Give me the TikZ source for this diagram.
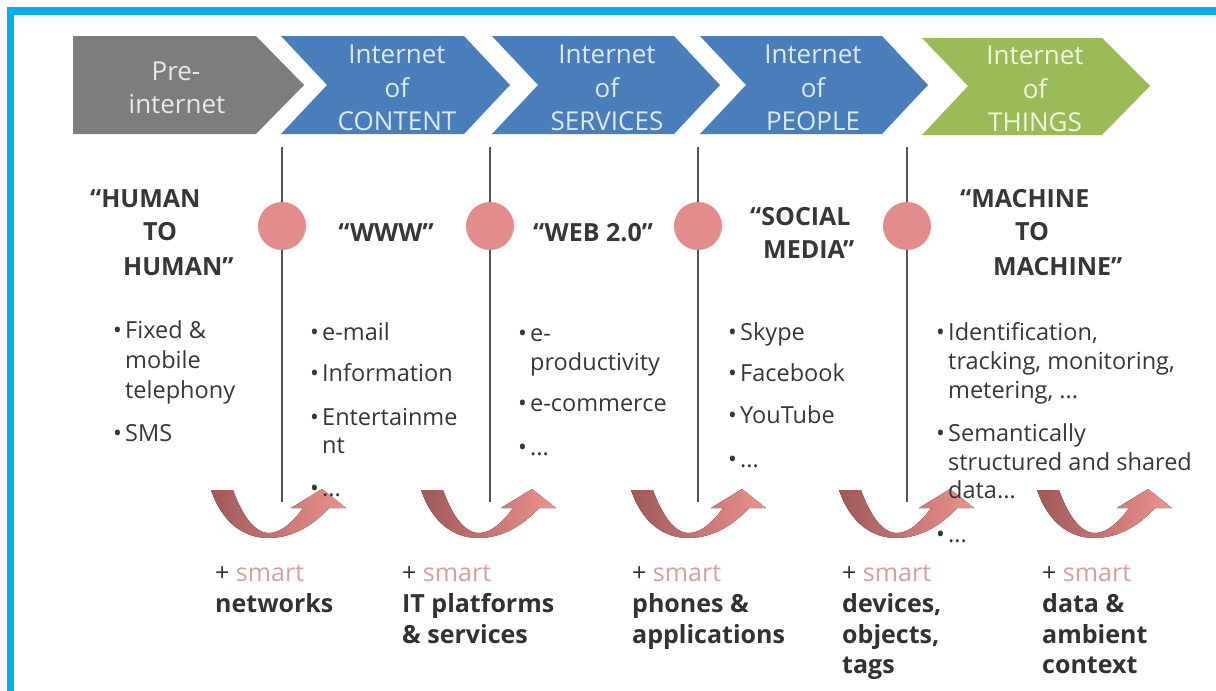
\documentclass[tikz,border=0pt]{standalone}
\usepackage{fontspec}
\setmainfont{Open Sans}
\definecolor{cyanb}{RGB}{0,174,239}
\definecolor{chgray}{RGB}{125,125,125}
\definecolor{chblue}{RGB}{74,126,187}
\definecolor{chgreen}{RGB}{155,187,89}
\definecolor{txtgray}{RGB}{232,232,232}
\definecolor{txtblue}{RGB}{222,232,245}
\definecolor{txtgreen}{RGB}{240,245,222}
\definecolor{headc}{RGB}{55,55,55}
\definecolor{bodyc}{RGB}{55,55,55}
\definecolor{botc}{RGB}{50,50,50}
\definecolor{smartc}{RGB}{214,160,160}
\definecolor{linec}{RGB}{85,85,85}
\definecolor{dotc}{RGB}{226,140,142}
\definecolor{swdark}{RGB}{160,88,90}
\definecolor{swmid}{RGB}{205,118,118}
\definecolor{swlight}{RGB}{236,146,143}
\newcommand\mybul{\makebox[12pt][l]{•}}
\begin{document}
\begin{tikzpicture}[x=1pt,y=-1pt,
  ctext/.style={font=\fontsize{26}{30}\selectfont, text=txtblue, anchor=base, inner sep=0pt},
  head/.style={font=\fontsize{25}{30}\selectfont\bfseries, text=headc, anchor=base west, inner sep=0pt},
  body/.style={font=\fontsize{23.5}{28}\selectfont, text=bodyc, anchor=base west, inner sep=0pt},
  bot/.style={font=\fontsize{25}{30}\selectfont\bfseries, text=botc, anchor=base west, inner sep=0pt},
  plus/.style={font=\fontsize{25}{30}\selectfont, text=botc, anchor=base west, inner sep=0pt},
  vline/.style={draw=linec, line width=2.5pt},
  dot/.style={circle, fill=dotc, minimum size=48pt, inner sep=0pt},
  swoosh/.style={left color=swdark, middle color=swmid, right color=swlight},
  uarrow/.pic={
    \fill[swoosh] (0,490) .. controls (12,525) and (35,538) .. (57,538)
      .. controls (85,538) and (105,522) .. (118,508)
      -- (135,508) -- (111,489) -- (80,508) -- (92,508)
      .. controls (82,522) and (70,533) .. (58,533)
      .. controls (42,533) and (30,512) .. (22,490) -- cycle;
  }]
\useasboundingbox (0,0) rectangle (1216,691);
\fill[white] (0,0) rectangle (1216,691);
% frame
\fill[cyanb] (7,7) rectangle (1216,15);
\fill[cyanb] (7,7) rectangle (14,691);
% chevrons
\fill[chgray] (73,36) -- (256,36) -- (304,85) -- (256,134) -- (73,134) -- cycle;
\fill[chblue] (281,36) -- (464,36) -- (510,85) -- (464,134) -- (281,134) -- (327,85) -- cycle;
\fill[chblue] (492,36) -- (674,36) -- (720,85) -- (674,134) -- (492,134) -- (538,85) -- cycle;
\fill[chblue] (700,36) -- (882,36) -- (928,85) -- (882,134) -- (700,134) -- (746,85) -- cycle;
\fill[chgreen] (922,38) -- (1102,38) -- (1150,86) -- (1102,135) -- (922,135) -- (968,86) -- cycle;
% chevron texts
\node[ctext, text=txtgray] (pa) at (176,80) {Pre-};
\node[ctext, text=txtgray] (pb) at (177,113) {internet};
\node[ctext] (ca) at (397,63) {Internet};
\node[ctext] (cb) at (397,97) {of};
\node[ctext] (cc) at (397,130) {CONTENT};
\node[ctext] (sa) at (607,63) {Internet};
\node[ctext] (sb) at (607,97) {of};
\node[ctext] (sc) at (607,130) {SERVICES};
\node[ctext] (qa) at (813,63) {Internet};
\node[ctext] (qb) at (813,97) {of};
\node[ctext] (qc) at (813,130) {PEOPLE};
\node[ctext, text=txtgreen] (ta) at (1035,64) {Internet};
\node[ctext, text=txtgreen] (tb) at (1035,98) {of};
\node[ctext, text=txtgreen] (tc) at (1035,131) {THINGS};
% swoosh arrows
\pic (a1) at (211,0) {uarrow};
\pic (a2) at (421,0) {uarrow};
\pic (a3) at (631,0) {uarrow};
\pic (a4) at (839,0) {uarrow};
\pic (a5) at (1037,0) {uarrow};
% vertical lines and dots
\coordinate (l1t) at (282,147); \coordinate (l1b) at (282,502);
\coordinate (l2t) at (490,147); \coordinate (l2b) at (490,502);
\coordinate (l3t) at (698,147); \coordinate (l3b) at (698,502);
\coordinate (l4t) at (907,147); \coordinate (l4b) at (907,502);
\draw[vline] (l1t) -- (l1b);
\draw[vline] (l2t) -- (l2b);
\draw[vline] (l3t) -- (l3b);
\draw[vline] (l4t) -- (l4b);
\node[dot] (d1) at (282,226) {};
\node[dot] (d2) at (490,226) {};
\node[dot] (d3) at (698,226) {};
\node[dot] (d4) at (907,226) {};
% headings
\node[head] (h1a) at (90,207) {“HUMAN};
\node[head] (h1b) at (143,240) {TO};
\node[head] (h1c) at (123,275) {HUMAN”};
\node[head, anchor=base] (h2) at (386,241) {“WWW”};
\node[head, anchor=base] (h3) at (593,241) {“WEB 2.0”};
\node[head] (h4a) at (750,225) {“SOCIAL};
\node[head] (h4b) at (763,258) {MEDIA”};
\node[head] (h5a) at (960,207) {“MACHINE};
\node[head] (h5b) at (1015,240) {TO};
\node[head] (h5c) at (993,275) {MACHINE”};
% column 1
\node[body] (c1a) at (113,338) {\mybul Fixed \&};
\node[body] (c1b) at (125,368) {mobile};
\node[body] (c1c) at (125,398) {telephony};
\node[body] (c1d) at (113,441) {\mybul SMS};
% column 2
\node[body] (c2a) at (310,340) {\mybul e-mail};
\node[body] (c2b) at (310,381) {\mybul Information};
\node[body] (c2c) at (310,425) {\mybul Entertainme};
\node[body] (c2d) at (322,453) {nt};
\node[body] (c2e) at (310,496) {\mybul ...};
% column 3
\node[body] (c3a) at (518,341) {\mybul e-};
\node[body] (c3b) at (530,370) {productivity};
\node[body] (c3c) at (518,411) {\mybul e-commerce};
\node[body] (c3d) at (518,455) {\mybul ...};
% column 4
\node[body] (c4a) at (728,340) {\mybul Skype};
\node[body] (c4b) at (728,381) {\mybul Facebook};
\node[body] (c4c) at (728,423) {\mybul YouTube};
\node[body] (c4d) at (728,467) {\mybul ...};
% column 5
\node[body] (c5a) at (936,340) {\mybul Identification,};
\node[body] (c5b) at (948,369) {tracking, monitoring,};
\node[body] (c5c) at (948,398) {metering, ...};
\node[body] (c5d) at (936,441) {\mybul Semantically};
\node[body] (c5e) at (948,470) {structured and shared};
\node[body] (c5f) at (948,498) {data...};
\node[body] (c5g) at (936,542) {\mybul ...};
% bottom labels
\node[plus] (s1a) at (215,581) {+ \textcolor{smartc}{smart}};
\node[bot] (s1b) at (215,612) {networks};
\node[plus] (s2a) at (402,581) {+ \textcolor{smartc}{smart}};
\node[bot] (s2b) at (402,612) {IT platforms};
\node[bot] (s2c) at (402,643) {\& services};
\node[plus] (s3a) at (632,581) {+ \textcolor{smartc}{smart}};
\node[bot] (s3b) at (632,612) {phones \&};
\node[bot] (s3c) at (632,643) {applications};
\node[plus] (s4a) at (842,581) {+ \textcolor{smartc}{smart}};
\node[bot] (s4b) at (842,612) {devices,};
\node[bot] (s4c) at (842,643) {objects,};
\node[bot] (s4d) at (842,673) {tags};
\node[plus] (s5a) at (1042,581) {+ \textcolor{smartc}{smart}};
\node[bot] (s5b) at (1042,612) {data \&};
\node[bot] (s5c) at (1042,643) {ambient};
\node[bot] (s5d) at (1042,673) {context};
\end{tikzpicture}
\end{document}
